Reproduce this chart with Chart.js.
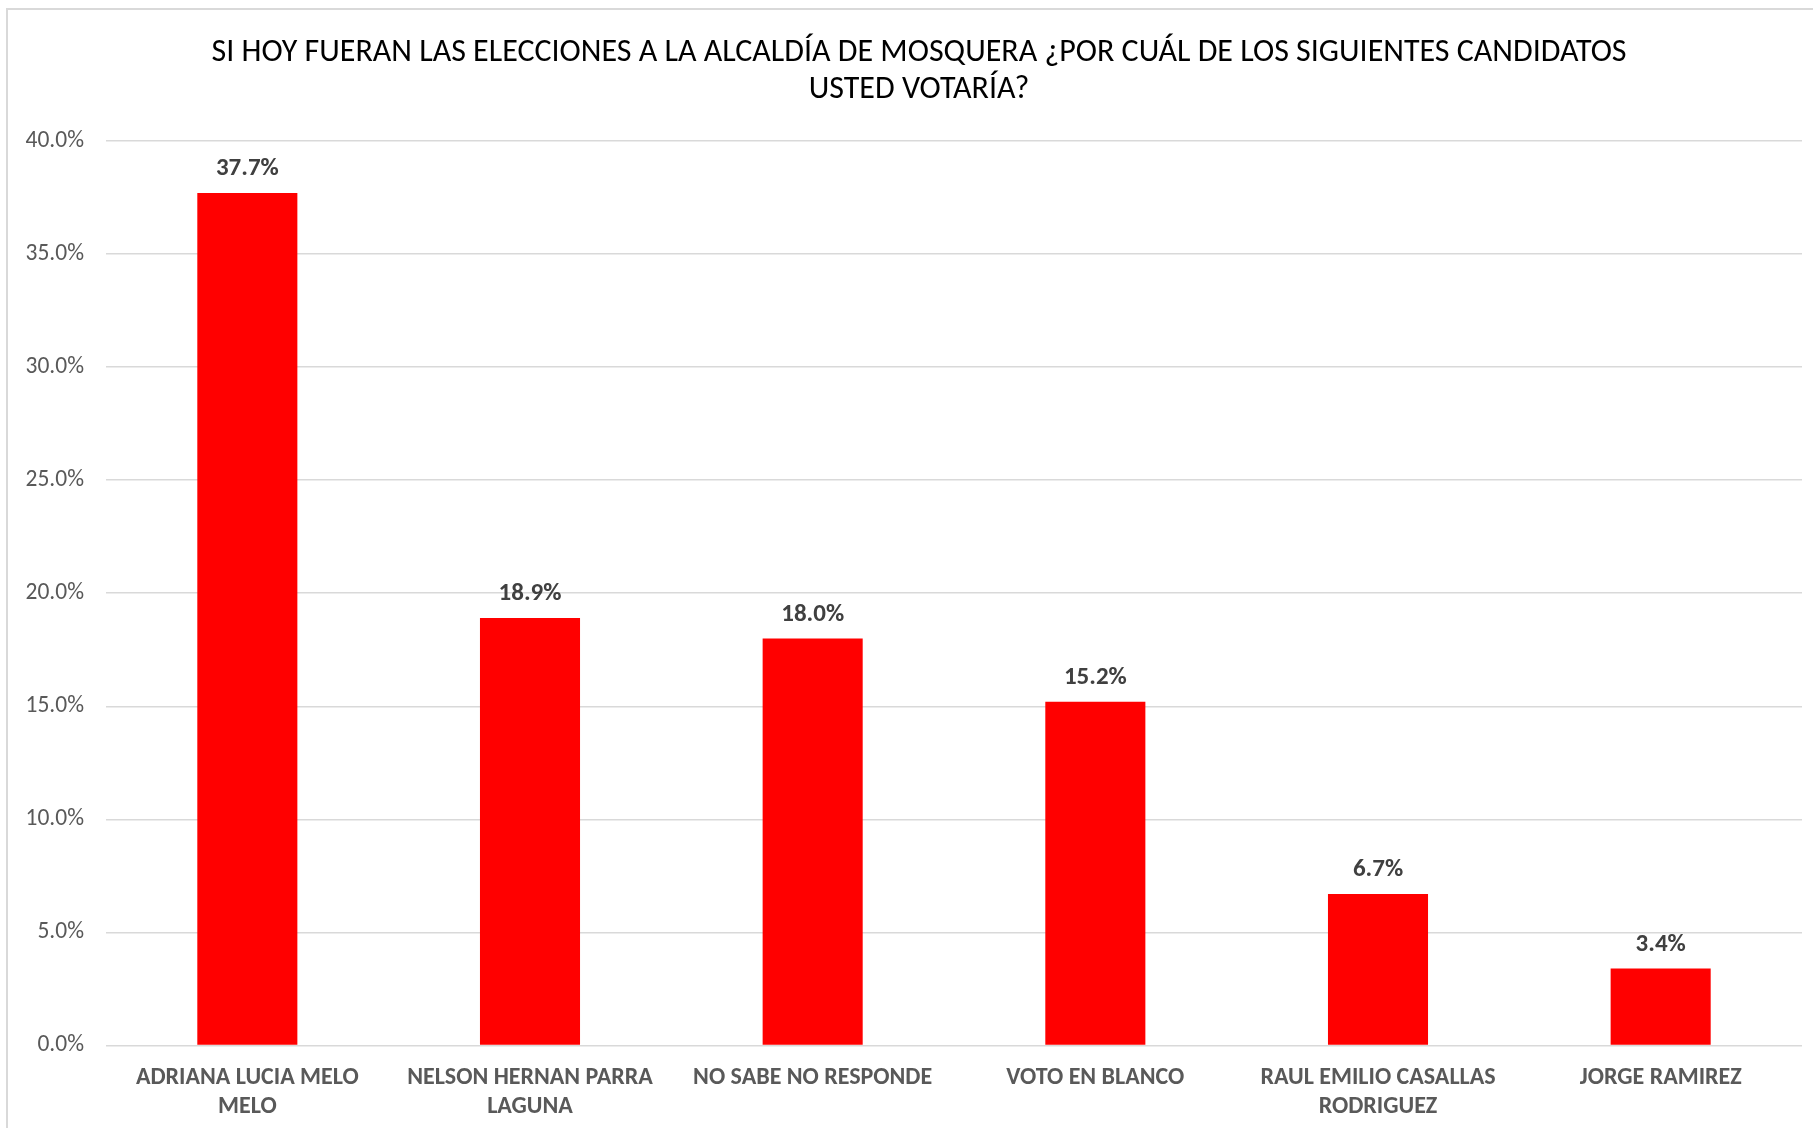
<!DOCTYPE html>
<html>
<head>
<meta charset="utf-8">
<script src="https://cdn.jsdelivr.net/npm/chart.js@4"></script>
<style>
  html, body { margin: 0; padding: 0; background: #fff; overflow: hidden; }
  #frame {
    position: absolute; left: 6px; top: 8px; width: 1830px; height: 1140px;
    border-top: 2px solid #d9d9d9; border-left: 2px solid #d9d9d9;
  }
  #wrap { position: absolute; left: 0; top: 0; width: 1813px; height: 1128px; }
</style>
</head>
<body>
<div id="frame"></div>
<div id="wrap"><canvas id="votos"></canvas></div>
<script>
// DATA
const categories = [
  ["ADRIANA LUCIA MELO", "MELO"],
  ["NELSON HERNAN PARRA", "LAGUNA"],
  ["NO SABE NO RESPONDE"],
  ["VOTO EN BLANCO"],
  ["RAUL EMILIO CASALLAS", "RODRIGUEZ"],
  ["JORGE RAMIREZ"],
];
const percentages = [37.7, 18.9, 18.0, 15.2, 6.7, 3.4];
const yTicks = [0, 5, 10, 15, 20, 25, 30, 35, 40];
const titleLines = [
  "SI HOY FUERAN LAS ELECCIONES A LA ALCALDÍA DE MOSQUERA ¿POR CUÁL DE LOS SIGUIENTES CANDIDATOS",
  "USTED VOTARÍA?",
];

const fontFamily = "Carlito, Calibri, Lato, sans-serif";

// labels above bars
const barLabels = {
  id: "barLabels",
  afterLayout(chart) {
    // title is centred a bit right of the canvas centre in the original
    chart.titleBlock.left = 36;
  },
  afterDatasetsDraw(chart) {
    const ctx = chart.ctx;
    const meta = chart.getDatasetMeta(0);
    ctx.save();
    ctx.font = "bold 25px " + fontFamily;
    ctx.fillStyle = "#404040";
    ctx.textAlign = "center";
    ctx.textBaseline = "middle";
    meta.data.forEach((bar, i) => {
      ctx.fillText(percentages[i].toFixed(1) + "%", bar.x, bar.y - 24);
    });
    ctx.restore();
  },
};

const ctx = document.getElementById("votos").getContext("2d");

new Chart(ctx, {
  type: "bar",
  data: {
    labels: categories,
    datasets: [
      {
        data: percentages,
        backgroundColor: "#ff0000",
        barPercentage: 0.354,
        categoryPercentage: 1,
      },
    ],
  },
  options: {
    responsive: true,
    maintainAspectRatio: false,
    animation: false,
    layout: { padding: { left: 0, right: 11, top: 0, bottom: -11.5 } },
    scales: {
      x: {
        grid: { display: false, drawTicks: false },
        border: { display: false },
        ticks: {
          color: "#595959",
          font: { family: fontFamily, size: 24, weight: "bold", lineHeight: 1.21 },
          padding: 18,
          maxRotation: 0,
          autoSkip: false,
        },
      },
      y: {
        min: 0,
        max: 40,
        afterBuildTicks(scale) {
          scale.ticks = yTicks.map((v) => ({ value: v }));
        },
        afterFit(scale) {
          scale.width = 106;
        },
        grid: { color: "#d9d9d9", lineWidth: 1.5, drawTicks: false },
        border: { display: false },
        ticks: {
          color: "#595959",
          font: { family: fontFamily, size: 23.5 },
          padding: 22,
          callback: (v) => v.toFixed(1) + "%",
        },
      },
    },
    plugins: {
      legend: { display: false },
      tooltip: { enabled: false },
      title: {
        display: true,
        text: titleLines,
        color: "#000000",
        font: { family: fontFamily, size: 32, weight: "normal", lineHeight: 1.156 },
        padding: { top: 35, bottom: 32 },
      },
    },
  },
  plugins: [barLabels],
});
</script>
</body>
</html>
